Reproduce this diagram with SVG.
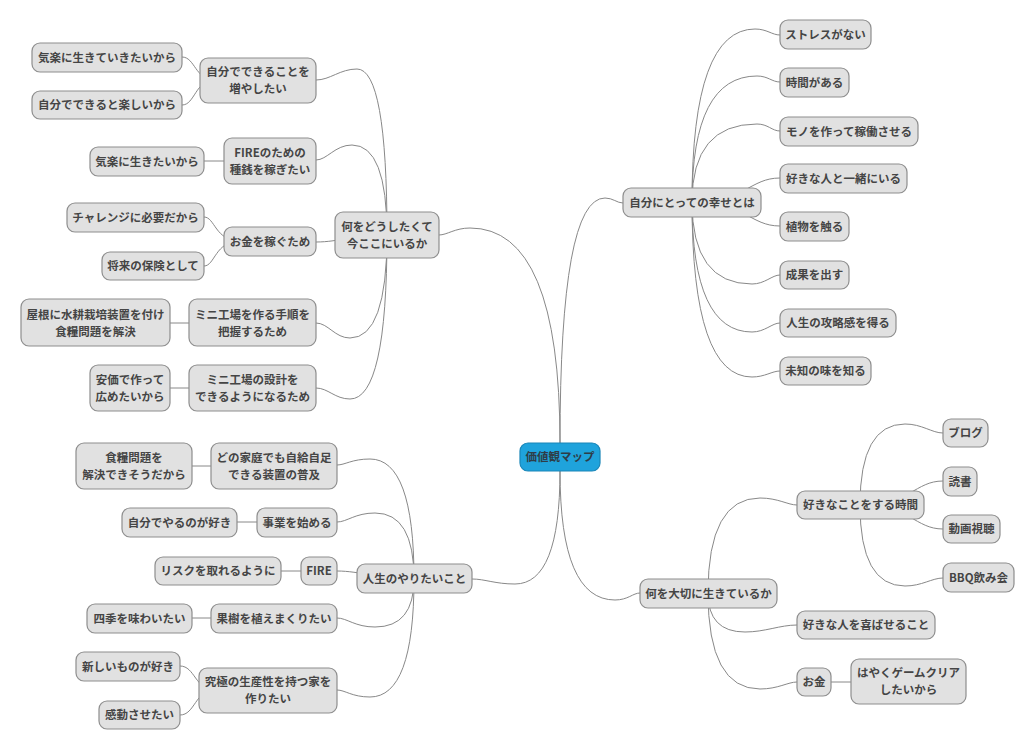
<svg xmlns="http://www.w3.org/2000/svg" width="1024" height="735" viewBox="0 0 1024 735">
<style>
.n rect{fill:#e1e1e1;stroke:#8e8e8e;stroke-width:1.2}
.n text{font-family:"Noto Sans CJK JP","Noto Sans",sans-serif;font-size:11.5px;font-weight:bold;fill:#454545;text-anchor:middle}
.c path{fill:none;stroke:#888;stroke-width:1}
#root rect{fill:#1fa3dc;stroke:#1a86b8}
#root text{fill:#2e3d48}
</style>
<rect width="1024" height="735" fill="#fff"/>
<g class="c">
<path d="M560,443 Q560,198 605,198 C613,198 617,203 623,203"/>
<path d="M560,443 Q560,228 470,228 C455,228 447,235 439,235"/>
<path d="M560,471 Q560,584 515,584 C495,584 485,579 472,579"/>
<path d="M560,471 Q560,600 615,600 C628,600 633,593 640,593"/>
<path d="M692,202 Q692,29 755,29 C767,29 772,35 780,35"/>
<path d="M692,202 Q692,76 757,76 C768,76 772,82 780,82"/>
<path d="M692,202 Q692,124 757,124 C768,124 772,131 780,131"/>
<path d="M692,202 C745,202 750,178 780,178"/>
<path d="M692,202 C745,202 750,226 780,226"/>
<path d="M692,202 Q692,284 752,284 C765,284 772,275 780,275"/>
<path d="M692,202 Q692,332 752,332 C765,332 772,323 780,323"/>
<path d="M692,202 Q692,377 752,377 C765,377 772,371 780,371"/>
<path d="M387,235 Q387,69 357,69 C340,69 330,80 316,80"/>
<path d="M387,235 Q387,145 352,145 C335,145 327,160 316,160"/>
<path d="M387,235 C350,235 340,242 316,242"/>
<path d="M387,235 Q387,338 350,338 C335,338 328,323 316,323"/>
<path d="M387,235 Q387,399 350,399 C335,399 328,388 316,388"/>
<path d="M215,80 C195,80 195,57 182,57"/>
<path d="M215,80 C195,80 195,105 182,105"/>
<path d="M204,161 L224,161"/>
<path d="M240,241 C215,241 215,217 204,217"/>
<path d="M240,241 C215,241 215,266 204,266"/>
<path d="M170,323 L189,323"/>
<path d="M170,388 L189,388"/>
<path d="M414,579 Q414,459 370,459 C352,459 345,465 337,465"/>
<path d="M414,579 Q414,513 375,513 C355,513 347,522 337,522"/>
<path d="M414,579 C380,579 360,571 337,571"/>
<path d="M414,579 Q414,627 375,627 C355,627 347,618 337,618"/>
<path d="M414,579 Q414,697 370,697 C352,697 345,690 337,690"/>
<path d="M192,466 L211,466"/>
<path d="M237,522 L257,522"/>
<path d="M281,571 L301,571"/>
<path d="M192,618 L211,618"/>
<path d="M215,690 C195,690 195,666 180,666"/>
<path d="M215,690 C195,690 195,715 180,715"/>
<path d="M708,593 Q708,498 760,498 C778,498 788,505 797,505"/>
<path d="M708,593 Q708,632 745,632 C765,632 780,625 797,625"/>
<path d="M708,593 Q708,689 760,689 C778,689 788,682 797,682"/>
<path d="M831,682 L851,682"/>
<path d="M860,505 Q860,424 905,424 C922,424 932,433 943,433"/>
<path d="M860,505 C910,505 915,481 943,481"/>
<path d="M860,505 C910,505 915,529 943,529"/>
<path d="M860,505 Q860,586 905,586 C922,586 932,578 943,578"/>
</g>
<g id="root" class="n"><rect x="520" y="443" width="80" height="28" rx="8"/><text x="560" y="461">価値観マップ</text></g>
<g id="A" class="n"><rect x="623" y="188" width="138" height="29" rx="8"/><text x="692" y="206.5">自分にとっての幸せとは</text></g>
<g id="A1" class="n"><rect x="780" y="20" width="91" height="29" rx="8"/><text x="825.5" y="38.5">ストレスがない</text></g>
<g id="A2" class="n"><rect x="780" y="68" width="69" height="29" rx="8"/><text x="814.5" y="86.5">時間がある</text></g>
<g id="A3" class="n"><rect x="780" y="117" width="138" height="29" rx="8"/><text x="849" y="135.5">モノを作って稼働させる</text></g>
<g id="A4" class="n"><rect x="780" y="164" width="127" height="29" rx="8"/><text x="843.5" y="182.5">好きな人と一緒にいる</text></g>
<g id="A5" class="n"><rect x="780" y="212" width="69" height="29" rx="8"/><text x="814.5" y="230.5">植物を触る</text></g>
<g id="A6" class="n"><rect x="780" y="261" width="69" height="28" rx="8"/><text x="814.5" y="279">成果を出す</text></g>
<g id="A7" class="n"><rect x="780" y="309" width="116" height="28" rx="8"/><text x="838" y="327">人生の攻略感を得る</text></g>
<g id="A8" class="n"><rect x="780" y="357" width="91" height="28" rx="8"/><text x="825.5" y="375">未知の味を知る</text></g>
<g id="B" class="n"><rect x="335" y="212" width="104" height="46" rx="8"/><text x="387" y="231">何をどうしたくて</text><text x="387" y="248">今ここにいるか</text></g>
<g id="B1" class="n"><rect x="200" y="58" width="116" height="45" rx="8"/><text x="258" y="76">自分でできることを</text><text x="258" y="93">増やしたい</text></g>
<g id="B1a" class="n"><rect x="32" y="43" width="150" height="29" rx="8"/><text x="107" y="61.5">気楽に生きていきたいから</text></g>
<g id="B1b" class="n"><rect x="32" y="91" width="150" height="28" rx="8"/><text x="107" y="109">自分でできると楽しいから</text></g>
<g id="B2" class="n"><rect x="224" y="138" width="92" height="46" rx="8"/><text x="270" y="157">FIREのための</text><text x="270" y="174">種銭を稼ぎたい</text></g>
<g id="B2a" class="n"><rect x="90" y="147" width="114" height="29" rx="8"/><text x="147" y="165.5">気楽に生きたいから</text></g>
<g id="B3" class="n"><rect x="224" y="227" width="92" height="29" rx="8"/><text x="270" y="245.5">お金を稼ぐため</text></g>
<g id="B3a" class="n"><rect x="67" y="203" width="137" height="29" rx="8"/><text x="135.5" y="221.5">チャレンジに必要だから</text></g>
<g id="B3b" class="n"><rect x="102" y="252" width="102" height="28" rx="8"/><text x="153" y="270">将来の保険として</text></g>
<g id="B4" class="n"><rect x="189" y="299" width="127" height="47" rx="8"/><text x="252.5" y="318.5">ミニ工場を作る手順を</text><text x="252.5" y="335.5">把握するため</text></g>
<g id="B4a" class="n"><rect x="21" y="299" width="149" height="47" rx="8"/><text x="95.5" y="318.5">屋根に水耕栽培装置を付け</text><text x="95.5" y="335.5">食糧問題を解決</text></g>
<g id="B5" class="n"><rect x="189" y="365" width="127" height="46" rx="8"/><text x="252.5" y="384">ミニ工場の設計を</text><text x="252.5" y="401">できるようになるため</text></g>
<g id="B5a" class="n"><rect x="90" y="365" width="80" height="46" rx="8"/><text x="130" y="384">安価で作って</text><text x="130" y="401">広めたいから</text></g>
<g id="C" class="n"><rect x="357" y="564" width="115" height="29" rx="8"/><text x="414.5" y="582.5">人生のやりたいこと</text></g>
<g id="C1" class="n"><rect x="211" y="443" width="126" height="46" rx="8"/><text x="274" y="462">どの家庭でも自給自足</text><text x="274" y="479">できる装置の普及</text></g>
<g id="C1a" class="n"><rect x="76" y="443" width="116" height="46" rx="8"/><text x="134" y="462">食糧問題を</text><text x="134" y="479">解決できそうだから</text></g>
<g id="C2" class="n"><rect x="257" y="508" width="80" height="29" rx="8"/><text x="297" y="526.5">事業を始める</text></g>
<g id="C2a" class="n"><rect x="122" y="508" width="115" height="29" rx="8"/><text x="179.5" y="526.5">自分でやるのが好き</text></g>
<g id="C3" class="n"><rect x="301" y="557" width="36" height="28" rx="8"/><text x="319" y="575">FIRE</text></g>
<g id="C3a" class="n"><rect x="155" y="557" width="126" height="28" rx="8"/><text x="218" y="575">リスクを取れるように</text></g>
<g id="C4" class="n"><rect x="211" y="604" width="126" height="29" rx="8"/><text x="274" y="622.5">果樹を植えまくりたい</text></g>
<g id="C4a" class="n"><rect x="87" y="604" width="105" height="29" rx="8"/><text x="139.5" y="622.5">四季を味わいたい</text></g>
<g id="C5" class="n"><rect x="199" y="668" width="138" height="45" rx="8"/><text x="268" y="686">究極の生産性を持つ家を</text><text x="268" y="703">作りたい</text></g>
<g id="C5a" class="n"><rect x="76" y="652" width="104" height="29" rx="8"/><text x="128" y="670.5">新しいものが好き</text></g>
<g id="C5b" class="n"><rect x="99" y="701" width="81" height="28" rx="8"/><text x="139.5" y="719">感動させたい</text></g>
<g id="D" class="n"><rect x="640" y="579" width="137" height="29" rx="8"/><text x="708.5" y="597.5">何を大切に生きているか</text></g>
<g id="D1" class="n"><rect x="797" y="491" width="127" height="28" rx="8"/><text x="860.5" y="509">好きなことをする時間</text></g>
<g id="D1a" class="n"><rect x="943" y="419" width="45" height="28" rx="8"/><text x="965.5" y="437">ブログ</text></g>
<g id="D1b" class="n"><rect x="943" y="467" width="34" height="29" rx="8"/><text x="960" y="485.5">読書</text></g>
<g id="D1c" class="n"><rect x="943" y="515" width="57" height="28" rx="8"/><text x="971.5" y="533">動画視聴</text></g>
<g id="D1d" class="n"><rect x="943" y="563" width="71" height="29" rx="8"/><text x="978.5" y="581.5">BBQ飲み会</text></g>
<g id="D2" class="n"><rect x="797" y="611" width="138" height="28" rx="8"/><text x="866" y="629">好きな人を喜ばせること</text></g>
<g id="D3" class="n"><rect x="797" y="668" width="34" height="28" rx="8"/><text x="814" y="686">お金</text></g>
<g id="D3a" class="n"><rect x="851" y="659" width="115" height="45" rx="8"/><text x="908.5" y="677">はやくゲームクリア</text><text x="908.5" y="694">したいから</text></g>
</svg>
